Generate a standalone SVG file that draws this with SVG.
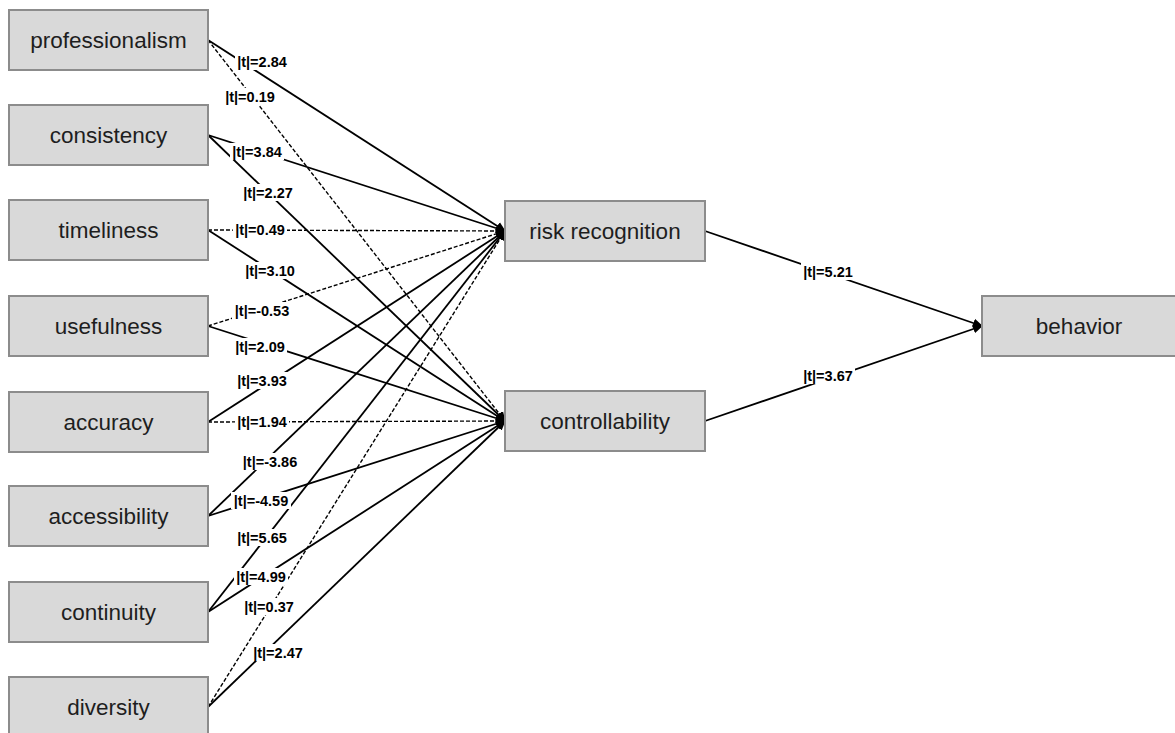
<svg xmlns="http://www.w3.org/2000/svg" width="1175" height="733" viewBox="0 0 1175 733">
<defs>
<style>
.box{fill:#d9d9d9;stroke:#8c8c8c;stroke-width:2}
.nt{font-family:"Liberation Sans",Arial,sans-serif;font-size:22.5px;fill:#1e1e1e;text-anchor:middle}
.ln{stroke:#000;stroke-width:1.8;fill:none}
.ds{stroke:#000;stroke-width:1.4;fill:none;stroke-dasharray:4 2}
.lb{font-family:"Liberation Sans",Arial,sans-serif;font-size:14.5px;font-weight:bold;fill:#000;text-anchor:middle}
.bg{fill:#fff}
</style>
<marker id="ar" viewBox="0 0 10 10" refX="9" refY="5" markerWidth="10" markerHeight="10" markerUnits="userSpaceOnUse" orient="auto">
<path d="M0,0.5 L10,5 L0,9.5 z" fill="#000"/>
</marker>
</defs>
<rect width="1175" height="733" fill="#fff"/>
<g id="connectors">
<line class="ln" x1="208" y1="40" x2="505" y2="231" marker-end="url(#ar)"/>
<line class="ds" x1="208" y1="40" x2="505" y2="421" marker-end="url(#ar)"/>
<line class="ln" x1="208" y1="135" x2="505" y2="231" marker-end="url(#ar)"/>
<line class="ln" x1="208" y1="135" x2="505" y2="421" marker-end="url(#ar)"/>
<line class="ds" x1="208" y1="230" x2="505" y2="231" marker-end="url(#ar)"/>
<line class="ln" x1="208" y1="230" x2="505" y2="421" marker-end="url(#ar)"/>
<line class="ds" x1="208" y1="326" x2="505" y2="231" marker-end="url(#ar)"/>
<line class="ln" x1="208" y1="326" x2="505" y2="421" marker-end="url(#ar)"/>
<line class="ln" x1="208" y1="422" x2="505" y2="231" marker-end="url(#ar)"/>
<line class="ds" x1="208" y1="422" x2="505" y2="421" marker-end="url(#ar)"/>
<line class="ln" x1="208" y1="516" x2="505" y2="231" marker-end="url(#ar)"/>
<line class="ln" x1="208" y1="516" x2="505" y2="421" marker-end="url(#ar)"/>
<line class="ln" x1="208" y1="612" x2="505" y2="231" marker-end="url(#ar)"/>
<line class="ln" x1="208" y1="612" x2="505" y2="421" marker-end="url(#ar)"/>
<line class="ds" x1="208" y1="707" x2="505" y2="231" marker-end="url(#ar)"/>
<line class="ln" x1="208" y1="707" x2="505" y2="421" marker-end="url(#ar)"/>
<line class="ln" x1="705" y1="231" x2="982" y2="326" marker-end="url(#ar)"/>
<line class="ln" x1="705" y1="421" x2="982" y2="326" marker-end="url(#ar)"/>
<g id="labels">
<rect class="bg" x="235" y="53" width="54" height="17"/><text class="lb" x="262" y="67">|t|=2.84</text>
<rect class="bg" x="223" y="88" width="54" height="17"/><text class="lb" x="250" y="102">|t|=0.19</text>
<rect class="bg" x="230" y="143" width="54" height="17"/><text class="lb" x="257" y="157">|t|=3.84</text>
<rect class="bg" x="241" y="184" width="54" height="17"/><text class="lb" x="268" y="198">|t|=2.27</text>
<rect class="bg" x="233" y="221" width="54" height="17"/><text class="lb" x="260" y="235">|t|=0.49</text>
<rect class="bg" x="243" y="262" width="54" height="17"/><text class="lb" x="270" y="276">|t|=3.10</text>
<rect class="bg" x="232" y="302" width="60" height="17"/><text class="lb" x="262" y="316">|t|=-0.53</text>
<rect class="bg" x="233" y="338" width="54" height="17"/><text class="lb" x="260" y="352">|t|=2.09</text>
<rect class="bg" x="235" y="372" width="54" height="17"/><text class="lb" x="262" y="386">|t|=3.93</text>
<rect class="bg" x="235" y="413" width="54" height="17"/><text class="lb" x="262" y="427">|t|=1.94</text>
<rect class="bg" x="240" y="453" width="60" height="17"/><text class="lb" x="270" y="467">|t|=-3.86</text>
<rect class="bg" x="231" y="492" width="60" height="17"/><text class="lb" x="261" y="506">|t|=-4.59</text>
<rect class="bg" x="235" y="529" width="54" height="17"/><text class="lb" x="262" y="543">|t|=5.65</text>
<rect class="bg" x="234" y="568" width="54" height="17"/><text class="lb" x="261" y="582">|t|=4.99</text>
<rect class="bg" x="242" y="598" width="54" height="17"/><text class="lb" x="269" y="612">|t|=0.37</text>
<rect class="bg" x="251" y="644" width="54" height="17"/><text class="lb" x="278" y="658">|t|=2.47</text>
<rect class="bg" x="801" y="263" width="54" height="17"/><text class="lb" x="828" y="277">|t|=5.21</text>
<rect class="bg" x="801" y="367" width="54" height="17"/><text class="lb" x="828" y="381">|t|=3.67</text>
</g>
</g>
<g id="professionalism"><rect class="box" x="9" y="10" width="199" height="60"/><text class="nt" x="108.5" y="48">professionalism</text></g>
<g id="consistency"><rect class="box" x="9" y="105" width="199" height="60"/><text class="nt" x="108.5" y="143">consistency</text></g>
<g id="timeliness"><rect class="box" x="9" y="200" width="199" height="60"/><text class="nt" x="108.5" y="238">timeliness</text></g>
<g id="usefulness"><rect class="box" x="9" y="296" width="199" height="60"/><text class="nt" x="108.5" y="334">usefulness</text></g>
<g id="accuracy"><rect class="box" x="9" y="392" width="199" height="60"/><text class="nt" x="108.5" y="430">accuracy</text></g>
<g id="accessibility"><rect class="box" x="9" y="486" width="199" height="60"/><text class="nt" x="108.5" y="524">accessibility</text></g>
<g id="continuity"><rect class="box" x="9" y="582" width="199" height="60"/><text class="nt" x="108.5" y="620">continuity</text></g>
<g id="diversity"><rect class="box" x="9" y="677" width="199" height="60"/><text class="nt" x="108.5" y="715">diversity</text></g>
<g id="risk-recognition"><rect class="box" x="505" y="201" width="200" height="60"/><text class="nt" x="605" y="239">risk recognition</text></g>
<g id="controllability"><rect class="box" x="505" y="391" width="200" height="60"/><text class="nt" x="605" y="429">controllability</text></g>
<g id="behavior"><rect class="box" x="982" y="296" width="200" height="60"/><text class="nt" x="1079" y="334">behavior</text></g>
</svg>
